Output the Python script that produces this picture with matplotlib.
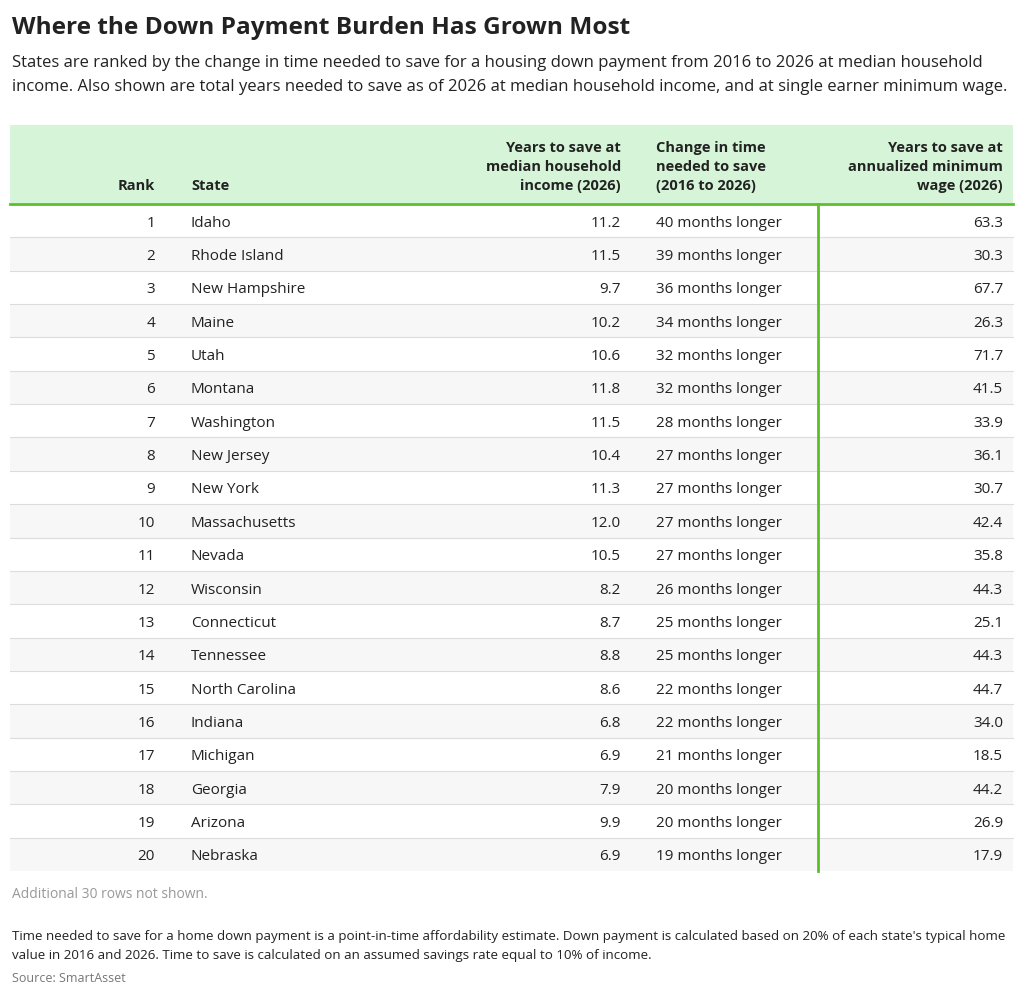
import matplotlib.pyplot as plt

plt.rcParams['font.family'] = ['Open Sans', 'DejaVu Sans']

ranks = list(range(1, 21))
states = ["Idaho", "Rhode Island", "New Hampshire", "Maine", "Utah", "Montana",
          "Washington", "New Jersey", "New York", "Massachusetts", "Nevada",
          "Wisconsin", "Connecticut", "Tennessee", "North Carolina", "Indiana",
          "Michigan", "Georgia", "Arizona", "Nebraska"]
years_median = [11.2, 11.5, 9.7, 10.2, 10.6, 11.8, 11.5, 10.4, 11.3, 12.0,
                10.5, 8.2, 8.7, 8.8, 8.6, 6.8, 6.9, 7.9, 9.9, 6.9]
months_longer = [40, 39, 36, 34, 32, 32, 28, 27, 27, 27, 27, 26, 25, 25, 22,
                 22, 21, 20, 20, 19]
years_minwage = [63.3, 30.3, 67.7, 26.3, 71.7, 41.5, 33.9, 36.1, 30.7, 42.4,
                 35.8, 44.3, 25.1, 44.3, 44.7, 34.0, 18.5, 44.2, 26.9, 17.9]

fig = plt.figure(figsize=(10.24, 9.96), dpi=100)
ax = fig.add_axes([0, 0, 1, 1])
ax.set_xlim(0, 1024)
ax.set_ylim(996, 0)
ax.axis('off')

dark = '#222222'
green = '#5cbf2a'
ax.text(12, 28, "Where the Down Payment Burden Has Grown Most", fontsize=17.6,
        fontweight='bold', color=dark, va='center')
ax.text(12, 63, "States are ranked by the change in time needed to save for a housing down payment from 2016 to 2026 at median household",
        fontsize=12.0, color=dark, va='center')
ax.text(12, 87, "income. Also shown are total years needed to save as of 2026 at median household income, and at single earner minimum wage.",
        fontsize=12.0, color=dark, va='center')

# header
x0, x1 = 10, 1013
ax.fill_between([x0, x1], 125, 203, color='#d6f5d8', lw=0)
hs = dict(fontsize=10.5, fontweight='bold', color=dark, linespacing=1.45)
ax.text(155, 193, "Rank", ha='right', va='bottom', **hs)
ax.text(191, 193, "State", ha='left', va='bottom', **hs)
ax.text(621, 193, "Years to save at\nmedian household\nincome (2026)", ha='right', va='bottom', multialignment='right', **hs)
ax.text(656, 193, "Change in time\nneeded to save\n(2016 to 2026)", ha='left', va='bottom', **hs)
ax.text(1003, 193, "Years to save at\nannualized minimum\nwage (2026)", ha='right', va='bottom', multialignment='right', **hs)

top = 204
rh = (871 - top) / len(states)
for i in range(len(states)):
    y = top + i * rh
    if i % 2 == 1:
        ax.fill_between([x0, x1], y, y + rh, color='#f7f7f7', lw=0)
    if i > 0:
        ax.plot([x0, x1], [y, y], color='#dddddd', lw=0.8)
    yc = y + rh / 2 + 2.5
    ts = dict(fontsize=11, color=dark, va='center')
    ax.text(155, yc, str(ranks[i]), ha='right', **ts)
    ax.text(191, yc, states[i], ha='left', **ts)
    ax.text(621, yc, f"{years_median[i]:.1f}", ha='right', **ts)
    ax.text(656, yc, f"{months_longer[i]} months longer", ha='left', **ts)
    ax.text(1003, yc, f"{years_minwage[i]:.1f}", ha='right', **ts)
ax.plot([x0, x1], [top, top], color=green, lw=2)
ax.plot([818, 818], [top, 871], color=green, lw=2)

ax.text(12, 894, "Additional 30 rows not shown.", fontsize=10, color='#999999', va='center')
ax.text(12, 936, "Time needed to save for a home down payment is a point-in-time affordability estimate. Down payment is calculated based on 20% of each state's typical home",
        fontsize=9.6, color=dark, va='center')
ax.text(12, 955, "value in 2016 and 2026. Time to save is calculated on an assumed savings rate equal to 10% of income.",
        fontsize=9.6, color=dark, va='center')
ax.text(12, 978, "Source: SmartAsset", fontsize=9, color='#777777', va='center')

fig.savefig("out.png", dpi=100)
